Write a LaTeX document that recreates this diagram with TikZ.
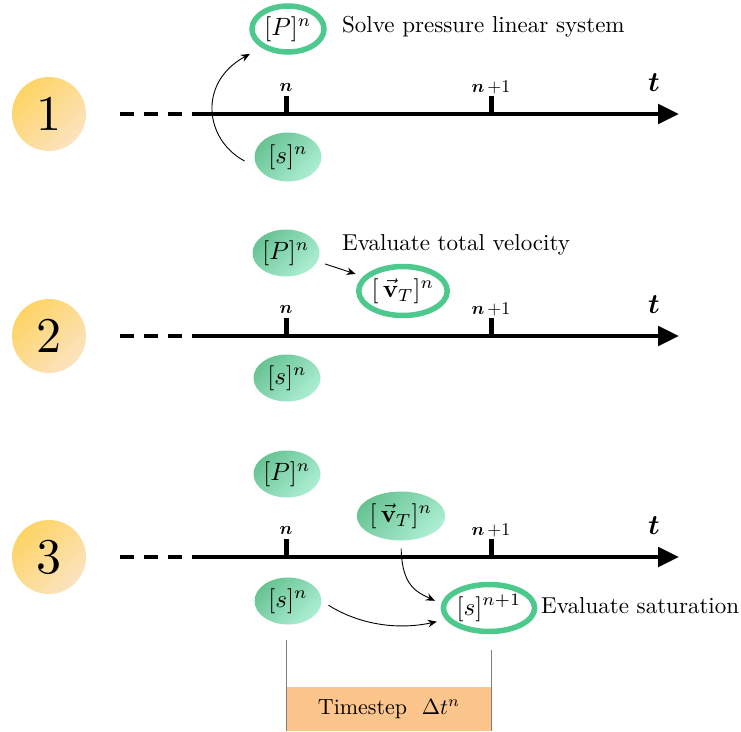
\documentclass[tikz,border=0pt]{standalone}
\usepackage{amsmath}
\usetikzlibrary{shapes.geometric,arrows.meta}
\definecolor{gline}{RGB}{78,201,142}
\definecolor{gdark}{RGB}{104,195,147}
\definecolor{glight}{RGB}{172,238,211}
\definecolor{ydark}{RGB}{253,212,100}
\definecolor{ylight}{RGB}{252,227,192}
\definecolor{barcol}{RGB}{251,197,140}
\definecolor{vline}{RGB}{125,125,125}
\newcommand\mt[1]{\scalebox{2.3}{#1}}
\newcommand\mm[1]{\scalebox{2.5}{#1}}
\newcommand\tl[1]{\scalebox{1.8}{#1}}
\begin{document}
\begin{tikzpicture}[x=1pt,y=-1pt,
  filled/.style={ellipse, minimum width=67pt, minimum height=47pt, inner sep=0pt,
    top color=gdark, bottom color=glight, shading angle=45, draw=none},
  ring/.style={ellipse, draw=gline, line width=5.5pt, fill=white, inner sep=0pt},
  stepnum/.style={circle, minimum size=74pt, inner sep=0pt, top color=ydark, bottom color=ylight, shading angle=45},
  axisline/.style={line width=4.8pt, -{Triangle[length=21pt,width=19pt]}},
  dashline/.style={line width=4.8pt, dash pattern=on 14pt off 10pt},
  tickmark/.style={line width=5pt},
  conn/.style={line width=0.9pt, -{Stealth[length=9pt,width=7.5pt]}},
  lbl/.style={anchor=west, inner sep=0pt},
  ticklbl/.style={inner sep=0pt}
]
\useasboundingbox (0,0) rectangle (741,731);

% ---------- row 1 ----------
\node[stepnum] (c1) at (49,114) {\scalebox{5}{1}};
\coordinate (d1a) at (120,114); \coordinate (d1b) at (192,114);
\coordinate (a1a) at (192,114); \coordinate (a1b) at (679,114);
\draw[dashline] (d1a) -- (d1b);
\draw[axisline] (a1a) -- (a1b);
\coordinate (t1a) at (286,114); \coordinate (t1b) at (286,96);
\coordinate (t1c) at (491,114); \coordinate (t1d) at (491,96);
\draw[tickmark] (t1a) -- (t1b);
\draw[tickmark] (t1c) -- (t1d);
\node[ticklbl] (n1a) at (286,87) {\tl{$\boldsymbol{n}$}};
\node[ticklbl] (n1b) at (491,87) {\tl{$\boldsymbol{n}\,{+}1$}};
\node[ticklbl] (tt1) at (654,83) {\scalebox{2.8}{$\boldsymbol{t}$}};

\node[ring, minimum width=72pt, minimum height=46pt] (P1) at (288,29) {\mm{$[P]^n$}};
\node[lbl] (L1) at (342,27) {\mt{Solve pressure linear system}};
\node[filled, minimum height=49pt] (s1) at (288,157) {\mm{$[s]^n$}};
\draw[conn, shorten <=15pt, shorten >=13pt] (s1.200) .. controls +(-53,-28) and +(-64,35) .. (P1.215);

% ---------- row 2 ----------
\node[stepnum] (c2) at (49,336) {\scalebox{5}{2}};
\coordinate (d2a) at (120,336); \coordinate (d2b) at (192,336);
\coordinate (a2a) at (192,336); \coordinate (a2b) at (679,336);
\draw[dashline] (d2a) -- (d2b);
\draw[axisline] (a2a) -- (a2b);
\coordinate (t2a) at (286,336); \coordinate (t2b) at (286,318);
\coordinate (t2c) at (491,336); \coordinate (t2d) at (491,318);
\draw[tickmark] (t2a) -- (t2b);
\draw[tickmark] (t2c) -- (t2d);
\node[ticklbl] (n2a) at (286,309) {\tl{$\boldsymbol{n}$}};
\node[ticklbl] (n2b) at (491,309) {\tl{$\boldsymbol{n}\,{+}1$}};
\node[ticklbl] (tt2) at (654,305) {\scalebox{2.8}{$\boldsymbol{t}$}};

\node[filled] (P2) at (286,253) {\mm{$[P]^n$}};
\node[lbl] (L2) at (342,245) {\mt{Evaluate total velocity}};
\node[ring, minimum width=77pt, minimum height=49pt] (v2) at (403,291) {\mm{$[\,\vec{\mathbf{v}}_T]^n$}};
\node[filled] (s2) at (287,378) {\mm{$[s]^n$}};
\draw[conn, shorten <=8pt, shorten >=8pt] (P2.-15) -- (v2.160);

% ---------- row 3 ----------
\node[stepnum] (c3) at (49,557) {\scalebox{5}{3}};
\coordinate (d3a) at (120,557); \coordinate (d3b) at (192,557);
\coordinate (a3a) at (192,557); \coordinate (a3b) at (679,557);
\draw[dashline] (d3a) -- (d3b);
\draw[axisline] (a3a) -- (a3b);
\coordinate (t3a) at (286,557); \coordinate (t3b) at (286,539);
\coordinate (t3c) at (491,557); \coordinate (t3d) at (491,539);
\draw[tickmark] (t3a) -- (t3b);
\draw[tickmark] (t3c) -- (t3d);
\node[ticklbl] (n3a) at (286,530) {\tl{$\boldsymbol{n}$}};
\node[ticklbl] (n3b) at (491,530) {\tl{$\boldsymbol{n}\,{+}1$}};
\node[ticklbl] (tt3) at (654,526) {\scalebox{2.8}{$\boldsymbol{t}$}};

\node[filled] (P3) at (287,474) {\mm{$[P]^n$}};
\node[filled, minimum width=75pt, minimum height=49pt] (v3) at (401,516) {\mm{$[\,\vec{\mathbf{v}}_T]^n$}};
\node[filled] (s3) at (288,601) {\mm{$[s]^n$}};
\node[ring, minimum width=78pt, minimum height=47pt] (sn) at (489,608) {\mm{$[s]^{n+1}$}};
\node[lbl] (L3) at (541,606) {\mt{Evaluate saturation}};
\draw[conn, shorten <=8pt, shorten >=7pt] (v3.south) .. controls +(1,45) and +(-25,-12) .. (sn.175);
\draw[conn, shorten <=8pt, shorten >=9pt] (s3.east) .. controls +(40,25) and +(-45,10) .. (sn.195);

% ---------- timestep bar ----------
\coordinate (b1) at (286,687); \coordinate (b2) at (491,731);
\fill[barcol] (b1) rectangle (b2);
\node (ts) at (389,709) {\scalebox{2.2}{Timestep\ \ $\Delta t^n$}};
\coordinate (g1a) at (286,640); \coordinate (g1b) at (286,731);
\coordinate (g2a) at (491,650); \coordinate (g2b) at (491,731);
\draw[vline, line width=0.8pt] (g1a) -- (g1b);
\draw[vline, line width=0.8pt] (g2a) -- (g2b);
\end{tikzpicture}
\end{document}
